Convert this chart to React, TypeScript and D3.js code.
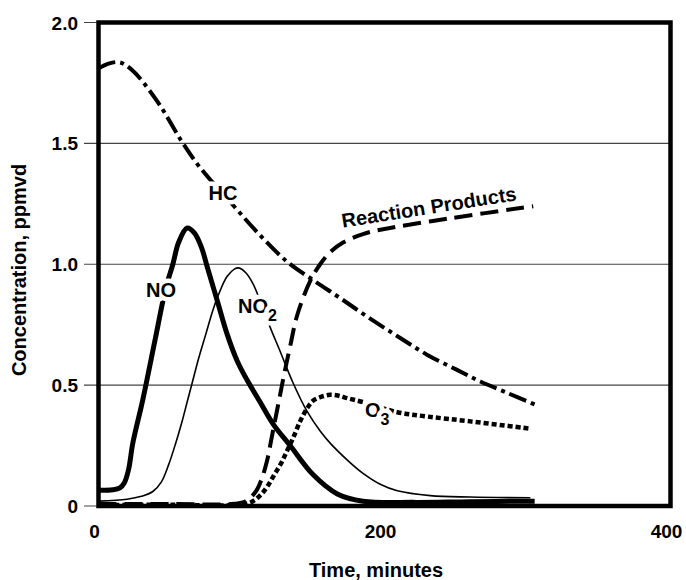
import React from 'react';
import * as d3 from 'd3';

type Pt = [number, number];

// time (minutes), concentration (ppmvd)
const hc: Pt[] = [
  [0, 1.81], [7, 1.83], [15, 1.835], [24, 1.8], [41, 1.675], [58, 1.51], [71, 1.4],
  [94, 1.245], [113, 1.12], [132, 1.01], [150, 0.935], [169, 0.86], [190, 0.775],
  [211, 0.695], [230, 0.625], [250, 0.565], [267, 0.515], [285, 0.47], [305, 0.42],
];
const no: Pt[] = [
  [0, 0.065], [10, 0.067], [15, 0.075], [18, 0.095], [21, 0.15], [24, 0.26], [31, 0.44],
  [40, 0.7], [47, 0.9], [52, 1.0], [56, 1.09], [62, 1.15], [67, 1.13], [72, 1.07],
  [76, 0.99], [83, 0.85], [90, 0.71], [97, 0.6], [104, 0.52], [113, 0.43], [122, 0.34],
  [134, 0.25], [150, 0.13], [167, 0.05], [185, 0.02], [220, 0.015], [260, 0.018], [305, 0.02],
];
const no2: Pt[] = [
  [0, 0.02], [20, 0.028], [30, 0.04], [38, 0.06], [44, 0.1], [49, 0.17], [54, 0.26],
  [58, 0.34], [62, 0.43], [66, 0.52], [70, 0.61], [75, 0.71], [80, 0.81], [85, 0.89],
  [90, 0.95], [95, 0.98], [98, 0.985], [103, 0.965], [108, 0.92], [113, 0.85], [120, 0.74],
  [127, 0.64], [136, 0.51], [146, 0.39], [155, 0.31], [162, 0.26], [174, 0.19],
  [185, 0.135], [197, 0.09], [209, 0.063], [232, 0.043], [260, 0.037], [302, 0.034],
];
const products: Pt[] = [
  [0, 0.008], [50, 0.008], [95, 0.009], [103, 0.02], [110, 0.06], [114, 0.11], [118, 0.19],
  [121, 0.28], [124, 0.37], [127, 0.46], [130, 0.55], [134, 0.66], [139, 0.79], [148, 0.93],
  [155, 1.0], [162, 1.05], [171, 1.09], [185, 1.125], [199, 1.145], [246, 1.19], [304, 1.24],
];
const o3: Pt[] = [
  [0, 0.004], [50, 0.005], [100, 0.006], [108, 0.02], [114, 0.05], [118, 0.08], [123, 0.13],
  [128, 0.18], [132, 0.23], [136, 0.28], [141, 0.35], [146, 0.405], [150, 0.435],
  [156, 0.452], [162, 0.46], [168, 0.456], [174, 0.446], [185, 0.43], [209, 0.388],
  [230, 0.37], [260, 0.35], [302, 0.32],
];

const yTicks = [0, 0.5, 1.0, 1.5, 2.0];
const xTicks = [0, 200, 400];

const font = '"Liberation Sans", Arial, sans-serif';

export default function App() {
  const width = 686;
  const height = 580;

  const x = d3.scaleLinear().domain([0, 400]).range([98.5, 670.5]);
  const y = d3.scaleLinear().domain([0, 2]).range([506, 22.5]);

  const line = d3.line<Pt>()
    .x(d => x(d[0]))
    .y(d => y(d[1]))
    .curve(d3.curveCatmullRom.alpha(0.5));

  const series = [
    { key: 'hc', data: hc, width: 4, dash: '18,5,4,5' },
    { key: 'no2', data: no2, width: 1.6, dash: undefined },
    { key: 'products', data: products, width: 4, dash: '18,8' },
    { key: 'o3', data: o3, width: 4.5, dash: '5,3' },
    { key: 'no', data: no, width: 5, dash: undefined },
  ];

  const halo = { stroke: '#fff', strokeWidth: 9, paintOrder: 'stroke' as const, strokeLinejoin: 'round' as const };

  return (
    <div>
      <style>{`body{margin:0}`}</style>
      <svg width={width} height={height} style={{ display: 'block', background: '#fff' }} fontFamily={font}>
        {/* gridlines, with short ticks out to the left */}
        {yTicks.map(v => (
          <line key={`g${v}`} x1={84} x2={x(400)} y1={y(v)} y2={y(v)} stroke="#444" strokeWidth={1.2} />
        ))}

        {series.map(s => (
          <path
            key={s.key}
            d={line(s.data) || ''}
            fill="none"
            stroke="#000"
            strokeWidth={s.width}
            strokeDasharray={s.dash}
            strokeLinejoin="round"
          />
        ))}

        {/* curve labels */}
        <g fontSize={20} fontWeight="bold" fill="#000">
          <text x={x(87)} y={y(1.266)} textAnchor="middle" {...halo}>HC</text>
          <text x={x(43.7)} y={y(0.865)} textAnchor="middle" {...halo}>NO</text>
          <text x={x(97.6)} y={y(0.8)} {...halo}>
            NO<tspan fontSize={16} dy={8}>2</tspan>
          </text>
          <text x={x(186.4)} y={y(0.368)} {...halo}>
            O<tspan fontSize={16} dy={8}>3</tspan>
          </text>
          <text
            transform={`translate(${x(231.8)},${y(1.208)}) rotate(-9)`}
            textAnchor="middle"
            {...halo}
          >
            Reaction Products
          </text>
        </g>

        {/* frame */}
        <rect x={x(0)} y={y(2)} width={x(400) - x(0)} height={y(0) - y(2)} fill="none" stroke="#000" strokeWidth={4.5} />

        {/* tick labels */}
        {yTicks.map(v => (
          <text key={`yt${v}`} x={78} y={y(v) + 7} textAnchor="end" fontSize={19} fontWeight="bold">
            {v === 0 ? '0' : v.toFixed(1)}
          </text>
        ))}
        {xTicks.map(v => (
          <text key={`xt${v}`} x={x(v) - 4} y={538} textAnchor="middle" fontSize={19} fontWeight="bold">
            {v}
          </text>
        ))}

        {/* axis titles */}
        <text x={376} y={577} textAnchor="middle" fontSize={20} fontWeight="bold">Time, minutes</text>
        <text transform="translate(26,270) rotate(-90)" textAnchor="middle" fontSize={20} fontWeight="bold">
          Concentration, ppmvd
        </text>
      </svg>
    </div>
  );
}
